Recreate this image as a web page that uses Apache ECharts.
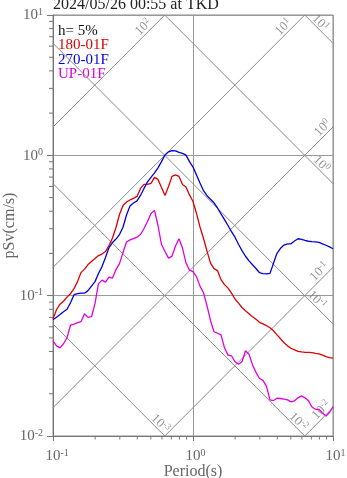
<!DOCTYPE html>
<html>
<head>
<meta charset="utf-8">
<script src="https://cdn.jsdelivr.net/npm/echarts@6/dist/echarts.min.js"></script>
<style>
  html, body { margin: 0; padding: 0; background: #fff; }
  #chart { width: 347px; height: 478px; }
</style>
</head>
<body>
<div id="chart"></div>
<script>
// ---- chart data -------------------------------------------------------
const titleText = '2024/05/26 00:55 at TKD';
const dampingText = 'h= 5%';

// natural period (s)
const periods = [
  0.1, 0.1059, 0.1122, 0.1189, 0.1259, 0.1334, 0.1413, 0.1496, 0.1585, 0.1679,
  0.1778, 0.1884, 0.1995, 0.2113, 0.2239, 0.2371, 0.2512, 0.2661, 0.2818, 0.2985,
  0.3162, 0.335, 0.3548, 0.3758, 0.3981, 0.4217, 0.4467, 0.4732, 0.5012, 0.5309,
  0.5623, 0.5957, 0.631, 0.6683, 0.7079, 0.7499, 0.7943, 0.8414, 0.8913, 0.9441,
  1.0, 1.059, 1.122, 1.189, 1.259, 1.334, 1.413, 1.496, 1.585, 1.679,
  1.778, 1.884, 1.995, 2.113, 2.239, 2.371, 2.512, 2.661, 2.818, 2.985,
  3.162, 3.35, 3.548, 3.758, 3.981, 4.217, 4.467, 4.732, 5.012, 5.309,
  5.623, 5.957, 6.31, 6.683, 7.079, 7.499, 7.943, 8.414, 8.913, 9.441,
  10.0
];

// pseudo velocity response (cm/s), h = 5%
const sv180 = [
  0.0685, 0.0794, 0.0870, 0.0913, 0.0976, 0.1033, 0.1122, 0.1259, 0.1460, 0.1546,
  0.1665, 0.1749, 0.1837, 0.1931, 0.1979, 0.2062, 0.2276, 0.2575, 0.3059, 0.3790,
  0.4394, 0.4654, 0.4809, 0.4930, 0.5095, 0.5810, 0.6206, 0.6206, 0.6310, 0.6964,
  0.6738, 0.5906, 0.5179, 0.6004, 0.7079, 0.7256, 0.7079, 0.6206, 0.5957, 0.5222,
  0.4692, 0.3853, 0.3085, 0.2554, 0.2079, 0.1707, 0.1559, 0.1509, 0.1301, 0.1199,
  0.1131, 0.1042, 0.0947, 0.0884, 0.0824, 0.0781, 0.0744, 0.0708, 0.0679, 0.0646,
  0.0629, 0.0611, 0.0591, 0.0562, 0.0526, 0.0493, 0.0462, 0.0439, 0.0422, 0.0411,
  0.0401, 0.0397, 0.0395, 0.0394, 0.0393, 0.0388, 0.0385, 0.0377, 0.0368, 0.0362,
  0.0359
];
const sv270 = [
  0.0674, 0.0702, 0.0734, 0.0769, 0.0801, 0.0891, 0.1017, 0.1033, 0.1042, 0.1042,
  0.1086, 0.1169, 0.1259, 0.1437, 0.1611, 0.1868, 0.2202, 0.2390, 0.2532, 0.2727,
  0.3075, 0.3758, 0.4358, 0.4577, 0.4732, 0.5179, 0.5810, 0.6467, 0.6964, 0.7499,
  0.8141, 0.9016, 1.005, 1.059, 1.082, 1.077, 1.051, 1.033, 1.003, 0.9016,
  0.8249, 0.7256, 0.6341, 0.5597, 0.5154, 0.4865, 0.4592, 0.4217, 0.3827, 0.3478,
  0.3162, 0.2856, 0.2609, 0.2325, 0.2096, 0.1909, 0.1770, 0.1660, 0.1562, 0.1457,
  0.1437, 0.1432, 0.1441, 0.1701, 0.2005, 0.2177, 0.2294, 0.2340, 0.2340, 0.2455,
  0.2545, 0.2520, 0.2479, 0.2442, 0.2427, 0.2415, 0.2395, 0.2340, 0.2287, 0.2224,
  0.2159
];
const svUP = [
  0.0477, 0.0439, 0.0425, 0.0454, 0.0501, 0.0616, 0.0628, 0.0642, 0.0652, 0.0744,
  0.0700, 0.0708, 0.0877, 0.1218, 0.1290, 0.1248, 0.1356, 0.1334, 0.1534, 0.1693,
  0.2028, 0.2411, 0.2499, 0.2554, 0.2609, 0.2727, 0.3009, 0.3377, 0.3853, 0.4050,
  0.3162, 0.2313, 0.2062, 0.1853, 0.1915, 0.2257, 0.2541, 0.2184, 0.1707, 0.1521,
  0.1484, 0.1367, 0.1169, 0.1050, 0.0848, 0.0663, 0.0553, 0.0540, 0.0526, 0.0425,
  0.0377, 0.0373, 0.0338, 0.0325, 0.0338, 0.0405, 0.0382, 0.0321, 0.0284, 0.0257,
  0.0249, 0.0226, 0.0181, 0.0179, 0.0186, 0.0185, 0.0183, 0.0181, 0.0175, 0.0178,
  0.0187, 0.0193, 0.0187, 0.0178, 0.0161, 0.0155, 0.0155, 0.0146, 0.0139, 0.0147,
  0.0162
];

const componentNames = ['180-01F', '270-01F', 'UP-01F'];
const componentValues = [sv180, sv270, svUP];

// tripartite grid: pseudo acceleration (cm/s^2) and displacement (cm) levels
const accelLevels = [100, 10, 1, 0.1, 0.01];
const dispLevels = [10, 1, 0.1, 0.01, 0.001];
// period at which each level's label is attached
const accelLabelPeriods = [0.477, 4.77, 9.12, 8.62, 8.91];
const dispLabelPeriods = [7.62, 7.73, 7.19, 5.30, 0.547];

const periodRange = [0.1, 10];
const svRange = [0.01, 10];
const minorSteps = [2, 3, 4, 5, 6, 7, 8, 9];

// ---- styling ----------------------------------------------------------
const SERIF = "'Liberation Serif', 'Times New Roman', 'DejaVu Serif', serif";
const lineColors = ['#e00000', '#0000e0', '#e000e0'];
const GRID_GRAY = '#8a8a8a';
const TEXT_GRAY = '#666';
const LABEL_GRAY = '#7a7a7a';

const TWO_PI = 2 * Math.PI;

function expOf(v) { return Math.round(Math.log10(v)); }

function powerLabel(v, withPad) {
  const e = String(expOf(v));
  return (withPad ? '{p|' + e + '}' : '') + '{b|10}{s|' + e + '}';
}

// clipped end points of constant-acceleration and constant-displacement lines
function accelSegment(a) {
  const t1 = Math.max(periodRange[0], svRange[0] * TWO_PI / a);
  const t2 = Math.min(periodRange[1], svRange[1] * TWO_PI / a);
  return [[t1, a * t1 / TWO_PI], [t2, a * t2 / TWO_PI]];
}
function dispSegment(d) {
  const t1 = Math.max(periodRange[0], TWO_PI * d / svRange[1]);
  const t2 = Math.min(periodRange[1], TWO_PI * d / svRange[0]);
  return [[t1, TWO_PI * d / t1], [t2, TWO_PI * d / t2]];
}

const diagStyle = { color: GRID_GRAY, width: 1 };
const diagSeries = [];
accelLevels.forEach(function (a) {
  diagSeries.push({
    type: 'line', data: accelSegment(a), symbol: 'none', silent: true,
    lineStyle: diagStyle, z: 1, animation: false
  });
});
dispLevels.forEach(function (d) {
  diagSeries.push({
    type: 'line', data: dispSegment(d), symbol: 'none', silent: true,
    lineStyle: diagStyle, z: 1, animation: false
  });
});

const diagRich = {
  b: { fontSize: 13, fontFamily: SERIF, color: LABEL_GRAY, lineHeight: 14, verticalAlign: 'bottom' },
  s: { fontSize: 9, fontFamily: SERIF, color: LABEL_GRAY, verticalAlign: 'top' }
};

const diagLabelData = [];
accelLevels.forEach(function (a, i) {
  const t = accelLabelPeriods[i];
  diagLabelData.push({
    value: [t, a * t / TWO_PI],
    label: { rotate: 45, offset: [0, -7], formatter: powerLabel(a, false) }
  });
});
dispLevels.forEach(function (d, i) {
  const t = dispLabelPeriods[i];
  diagLabelData.push({
    value: [t, TWO_PI * d / t],
    label: { rotate: -45, offset: [0, -6], formatter: powerLabel(d, false) }
  });
});

// minor tick values inside each decade
const xMinor = [];
[0.1, 1].forEach(function (dec) { minorSteps.forEach(function (m) { xMinor.push([dec * m, svRange[0]]); }); });
const yMinor = [];
[0.01, 0.1, 1].forEach(function (dec) { minorSteps.forEach(function (m) { yMinor.push([periodRange[0], dec * m]); }); });

const axisRich = {
  b: { fontSize: 15, fontFamily: SERIF, color: TEXT_GRAY, lineHeight: 16, verticalAlign: 'bottom' },
  s: { fontSize: 10, fontFamily: SERIF, color: TEXT_GRAY, verticalAlign: 'top' },
  p: { fontSize: 10, fontFamily: SERIF, color: 'rgba(0,0,0,0)', verticalAlign: 'top' }
};

const chart = echarts.init(document.getElementById('chart'), null, { renderer: 'canvas' });

const option = {
  animation: false,
  backgroundColor: '#fff',
  title: {
    text: titleText, left: 53, top: -3, padding: 0,
    textStyle: { fontFamily: SERIF, fontSize: 16, fontWeight: 'normal', color: '#222' }
  },
  grid: {
    left: 53, right: 14, top: 15, bottom: 42,
    containLabel: false, outerBoundsMode: 'none',
    show: true, borderColor: '#888', borderWidth: 1, backgroundColor: 'transparent'
  },
  xAxis: {
    type: 'log', logBase: 10, min: periodRange[0], max: periodRange[1],
    name: 'Period(s)', nameLocation: 'middle', nameGap: 28, nameMoveOverlap: false,
    nameTextStyle: { fontFamily: SERIF, fontSize: 16, color: TEXT_GRAY },
    axisLine: { lineStyle: { color: '#777', width: 1 } },
    axisTick: { length: 5, lineStyle: { color: '#777' } },
    axisLabel: { margin: 12, formatter: function (v) { return powerLabel(v, true); }, rich: axisRich },
    splitLine: { show: true, lineStyle: { color: '#999', width: 1 } }
  },
  yAxis: {
    type: 'log', logBase: 10, min: svRange[0], max: svRange[1],
    name: 'pSv(cm/s)', nameLocation: 'middle', nameGap: 35, nameRotate: 90, nameMoveOverlap: false,
    nameTextStyle: { fontFamily: SERIF, fontSize: 16, color: TEXT_GRAY },
    axisLine: { lineStyle: { color: '#777', width: 1 } },
    axisTick: { length: 6, lineStyle: { color: '#777' } },
    axisLabel: { margin: 10, formatter: function (v) { return powerLabel(v, false); }, rich: axisRich },
    splitLine: { show: true, lineStyle: { color: '#999', width: 1 } }
  },
  graphic: [
    { type: 'text', left: 58, top: 24, style: { text: dampingText, font: '15px ' + SERIF, fill: '#111' } },
    { type: 'text', left: 58, top: 38, style: { text: componentNames[0], font: '15px ' + SERIF, fill: lineColors[0] } },
    { type: 'text', left: 58, top: 53, style: { text: componentNames[1], font: '15px ' + SERIF, fill: lineColors[1] } },
    { type: 'text', left: 58, top: 67, style: { text: componentNames[2], font: '15px ' + SERIF, fill: lineColors[2] } }
  ],
  series: diagSeries.concat([
    {
      type: 'scatter', data: diagLabelData, symbolSize: 1, silent: true, z: 2,
      itemStyle: { color: 'rgba(0,0,0,0)' },
      label: { show: true, position: 'inside', rich: diagRich }
    },
    {
      type: 'custom', data: xMinor, silent: true, z: 3, clip: false,
      renderItem: function (params, api) {
        const p = api.coord([api.value(0), api.value(1)]);
        return { type: 'line', shape: { x1: p[0], y1: p[1], x2: p[0], y2: p[1] + 3.5 },
                 style: { stroke: '#777', lineWidth: 1 } };
      }
    },
    {
      type: 'custom', data: yMinor, silent: true, z: 3, clip: false,
      renderItem: function (params, api) {
        const p = api.coord([api.value(0), api.value(1)]);
        return { type: 'line', shape: { x1: p[0] - 4, y1: p[1], x2: p[0], y2: p[1] },
                 style: { stroke: '#777', lineWidth: 1 } };
      }
    }
  ]).concat(componentValues.map(function (vals, i) {
    return {
      name: componentNames[i], type: 'line', symbol: 'none', z: 5,
      data: periods.map(function (t, k) { return [t, vals[k]]; }),
      lineStyle: { color: lineColors[i], width: 1.3 }
    };
  }))
};

chart.setOption(option);
</script>
</body>
</html>
